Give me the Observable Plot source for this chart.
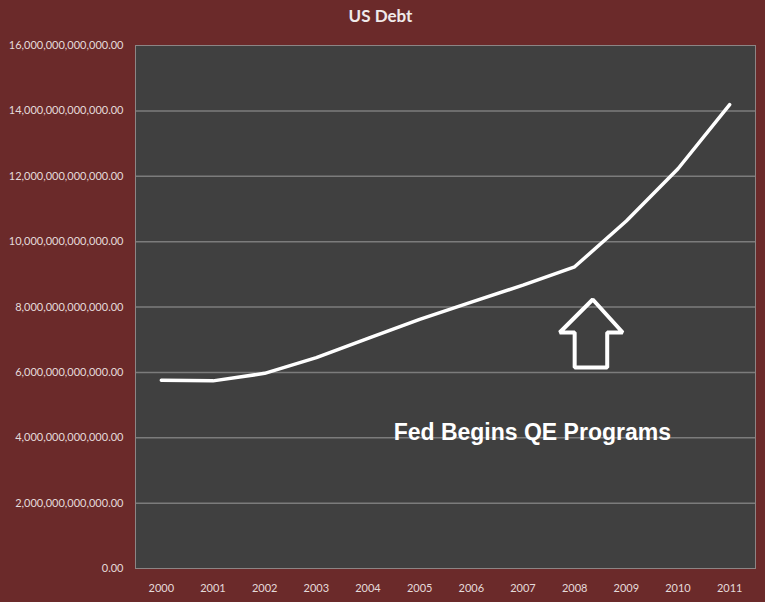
<!DOCTYPE html>
<html>
<head>
<meta charset="utf-8">
<script src="https://cdn.jsdelivr.net/npm/d3@7"></script>
<script src="https://cdn.jsdelivr.net/npm/@observablehq/plot@0.6"></script>
<style>
  html, body { margin: 0; padding: 0; background: #6b2a2a; }
  #wrap { width: 765px; height: 602px; background: #6b2a2a; position: relative; overflow: hidden; }
  #title { height: 30px; line-height: 32px; text-align: center; font-family: Lato, "Open Sans", sans-serif; font-weight: bold; font-size: 17px; color: #f0eaea; padding-right: 4px; box-sizing: border-box; }
  svg { display: block; }
</style>
</head>
<body>
<div id="wrap">
  <div id="title">US Debt</div>
  <div id="chart"></div>
</div>
<script>
const years = [2000, 2001, 2002, 2003, 2004, 2005, 2006, 2007, 2008, 2009, 2010, 2011];
const debt = [5.76e12, 5.74e12, 5.97e12, 6.45e12, 7.04e12, 7.62e12, 8.15e12, 8.67e12, 9.23e12, 10.63e12, 12.23e12, 14.19e12];
const yTicks = [0, 2e12, 4e12, 6e12, 8e12, 10e12, 12e12, 14e12, 16e12];
const gridValues = [2e12, 4e12, 6e12, 8e12, 10e12, 12e12, 14e12];
// annotation: up arrow outline (x in years, y in dollars) and label
const arrowX = [2008.0, 2008.0, 2007.71, 2008.35, 2008.93, 2008.63, 2008.63, 2008.0];
const arrowY = [6.15e12, 7.22e12, 7.22e12, 8.23e12, 7.22e12, 7.22e12, 6.15e12, 6.15e12];
const labelText = ["Fed Begins QE Programs"];
const labelX = [2007.18];
const labelY = [4.17e12];

const series = years.map((y, i) => ({year: y, value: debt[i]}));
const arrow = arrowX.map((x, i) => ({x, y: arrowY[i]}));
const labels = labelText.map((t, i) => ({t, x: labelX[i], y: labelY[i]}));

const chart = Plot.plot({
  width: 765,
  height: 572,
  marginLeft: 135,
  marginRight: 10,
  marginTop: 15,
  marginBottom: 34,
  style: {background: "transparent", color: "#e4dada", fontFamily: "Lato, 'Open Sans', sans-serif", fontSize: "11px"},
  x: {domain: [1999.5, 2011.5], ticks: years, tickFormat: d => String(d), tickSize: 0, tickPadding: 16, label: null},
  y: {domain: [0, 16e12], ticks: yTicks, tickFormat: d3.format(",.2f"), tickSize: 0, tickPadding: 12, label: null},
  marks: [
    Plot.frame({fill: "#404040", stroke: null}),
    Plot.ruleY(gridValues, {stroke: "#7c7c7c", strokeWidth: 1.5}),
    Plot.frame({stroke: "#8c8585", strokeWidth: 1}),
    Plot.line(series, {x: "year", y: "value", stroke: "#ffffff", strokeWidth: 3.5, curve: "linear", strokeLinecap: "round", strokeLinejoin: "round"}),
    Plot.line(arrow, {x: "x", y: "y", stroke: "#ffffff", strokeWidth: 4, strokeLinejoin: "miter", curve: "linear-closed"}),
    Plot.text(labels, {x: "x", y: "y", text: "t", fill: "#ffffff", fontSize: 23, fontWeight: "bold", fontFamily: "'Liberation Sans', Arial, sans-serif", textAnchor: "middle"})
  ]
});
document.getElementById("chart").appendChild(chart);
</script>
</body>
</html>
